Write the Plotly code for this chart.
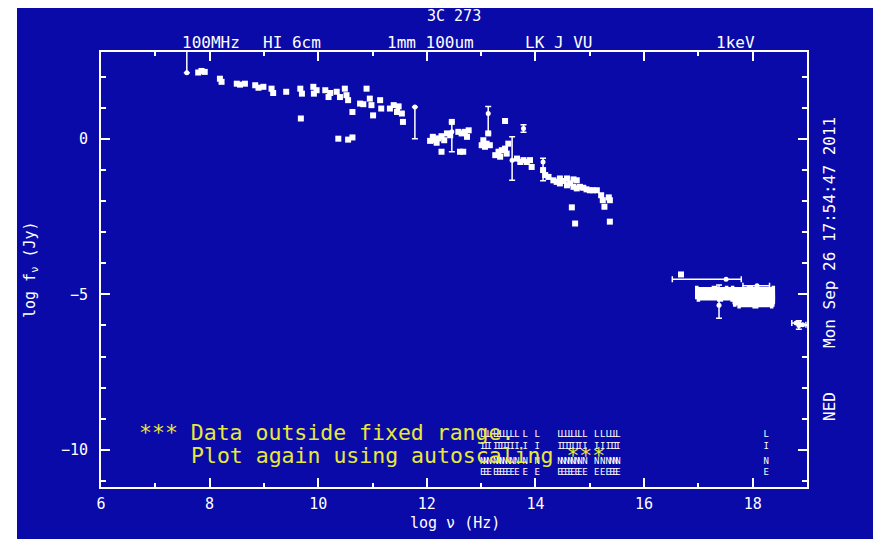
import plotly.graph_objects as go

# ---------------- data ----------------
# photometric points without drawn error bars: log nu (Hz), log f_nu (Jy)
sed_x = [7.79, 7.85, 7.91, 8.19, 8.22, 8.50, 8.56, 8.65, 8.84, 8.90, 8.99,
         9.14, 9.17, 9.41, 9.67, 9.70, 9.68, 9.91, 9.92, 9.97, 10.13, 10.19,
         10.22, 10.34, 10.40, 10.49, 10.52, 10.55, 10.63, 10.37, 10.55, 10.63,
         10.77, 10.83, 10.89, 10.95, 10.98, 11.01, 11.14, 11.16, 11.32, 11.39,
         11.45, 11.48, 11.54, 11.56,
         12.11, 12.15, 12.21, 12.27, 12.32, 12.18, 12.06, 12.27, 12.46, 12.37, 12.43,
         12.58, 12.64, 12.70, 12.77, 12.74, 12.61, 12.67, 13.13,
         13.04, 13.10, 13.16, 13.01, 13.07, 13.44,
         13.32, 13.38, 13.44, 13.26, 13.35, 13.47, 13.50,
         13.66, 13.72, 13.78, 13.84, 13.90, 13.93,
         14.14, 14.18, 14.24, 14.33, 14.39, 14.45, 14.52, 14.58, 14.64, 14.70,
         14.76, 14.82, 14.88, 14.94, 15.00, 15.06, 15.13,
         14.45, 14.58, 14.70, 14.76, 14.67, 14.73,
         15.21, 15.24, 15.27, 15.37, 15.35, 15.37,
         16.68]
sed_y = [2.14, 2.19, 2.16, 1.94, 1.84, 1.78, 1.75, 1.78, 1.73, 1.65, 1.68,
         1.62, 1.48, 1.52, 1.62, 1.46, 0.66, 1.68, 1.46, 1.57, 1.57, 1.35,
         1.48, 1.52, 1.35, 1.62, 1.41, 1.25, 0.87, 0.01, -0.02, 0.05,
         1.14, 1.12, 1.62, 1.30, 1.09, 0.76, 1.25, 0.98, 0.98, 1.09,
         0.87, 1.05, 0.82, 0.55,
         0.07, -0.04, 0.02, 0.09, -0.04, -0.12, -0.06, -0.41, 0.55, 0.18, 0.12,
         0.23, 0.18, 0.23, 0.28, 0.07, -0.41, -0.41, 0.18,
         -0.04, -0.15, -0.20, -0.20, -0.25, 0.58,
         -0.41, -0.36, -0.31, -0.52, -0.57, -0.47, -0.15,
         -0.63, -0.74, -0.68, -0.74, -0.68, -0.90,
         -1.00, -1.16, -1.22, -1.33, -1.38, -1.43, -1.35, -1.49, -1.43, -1.54,
         -1.59, -1.54, -1.57, -1.62, -1.65, -1.65, -1.65,
         -1.27, -1.27, -1.30, -1.33, -2.20, -2.72,
         -1.81, -1.97, -2.18, -1.97, -1.88, -2.66,
         -4.36]

# points with vertical error bars
err_x = [7.58, 11.78, 12.46, 13.13, 13.78, 13.57, 14.14, 17.38, 18.85]
err_y = [2.13, 1.03, 0.23, 0.82, 0.34, -0.68, -0.74, -5.35, -6.00]
err_up = [1.50, 0.00, 0.32, 0.23, 0.12, 0.75, 0.12, 0.65, 0.15]
err_dn = [0.00, 1.02, 0.64, 0.64, 0.12, 0.65, 0.60, 0.42, 0.12]

# X-ray / gamma points with horizontal error bars (thin)
xr_x = [17.51, 18.08, 18.80, 18.92]
xr_y = [-4.51, -4.72, -5.92, -5.98]
xr_lo = [0.99, 0.26, 0.08, 0.06]
xr_hi = [0.28, 0.23, 0.08, 0.06]

# dense X-ray spectrum block (horizontal error bars)
xb_x = [17.30, 17.95, 17.25, 17.85, 17.30, 17.95, 17.35, 18.00, 17.40, 18.00,
        18.02, 18.02, 18.05]
xb_y = [-4.82, -4.82, -4.90, -4.90, -4.98, -4.98, -5.06, -5.06, -5.14, -5.14,
        -5.22, -5.30, -5.36]
xb_err = [0.33, 0.43, 0.28, 0.50, 0.33, 0.43, 0.38, 0.38, 0.40, 0.38,
          0.36, 0.35, 0.30]

# positions of spectral-line markers ("LINE") along the bottom
line_x = [13.03, 13.09, 13.15, 13.27, 13.33, 13.38, 13.44, 13.50, 13.57, 13.66,
          13.81, 14.03, 14.45, 14.51, 14.58, 14.64, 14.69, 14.77, 14.82, 14.91,
          15.13, 15.24, 15.34, 15.41, 15.47, 15.52, 18.25]
line_letters = ["L", "I", "N", "E"]

# band labels along the top axis
band_labels = ["100MHz", "HI 6cm", "1mm 100um", "LK J VU", "1keV"]
band_x = [8.03, 9.51, 12.06, 14.42, 17.69]

x_tickvals = [6, 8, 10, 12, 14, 16, 18]
y_tickvals = [-10, -5, 0]

# ---------------- style / layout ----------------
BLUE = "#0a0aa8"
WHITE = "#ffffff"
YELLOW = "#e8e83a"
FONT = "DejaVu Sans Mono"

W, H = 881, 539
OFF = 8  # the page body margin shifts the figure by 8px
# plot box in screen pixels (as in the reference)
SL, SR, ST, SB = 101, 807, 52, 487
L, T = SL - OFF, ST - OFF
R = W - (SR - OFF)
B = H - (SB - OFF)
PW, PH = SR - SL, SB - ST


def px2paper(px, py):
    """screen pixel of the reference -> paper coordinates"""
    return (px - SL) / PW, (SB - py) / PH


fig = go.Figure()

fig.add_trace(go.Scatter(
    x=sed_x, y=sed_y, mode="markers",
    marker=dict(color=WHITE, size=6, symbol="square"),
    showlegend=False, hoverinfo="skip"))

fig.add_trace(go.Scatter(
    x=err_x, y=err_y, mode="markers",
    marker=dict(color=WHITE, size=5, symbol="circle"),
    error_y=dict(type="data", symmetric=False, array=err_up, arrayminus=err_dn,
                 color=WHITE, thickness=1.5, width=3),
    showlegend=False, hoverinfo="skip"))

fig.add_trace(go.Scatter(
    x=xr_x, y=xr_y, mode="markers",
    marker=dict(color=WHITE, size=5, symbol="circle"),
    error_x=dict(type="data", symmetric=False, array=xr_hi, arrayminus=xr_lo,
                 color=WHITE, thickness=1.5, width=3),
    showlegend=False, hoverinfo="skip"))

fig.add_trace(go.Scatter(
    x=xb_x, y=xb_y, mode="markers",
    marker=dict(color=WHITE, size=6, symbol="square"),
    error_x=dict(type="data", array=xb_err, color=WHITE, thickness=3.5, width=3),
    showlegend=False, hoverinfo="skip"))

# LINE markers: one text trace per letter row
letter_rows = [-9.52, -9.91, -10.39, -10.74]
for letter, yrow in zip(line_letters, letter_rows):
    fig.add_trace(go.Scatter(
        x=line_x, y=[yrow] * len(line_x), mode="text",
        text=[letter] * len(line_x),
        textfont=dict(family=FONT, size=9, color=WHITE),
        showlegend=False, hoverinfo="skip", cliponaxis=False))

axis_common = dict(
    showline=True, linecolor=WHITE, linewidth=2, mirror="ticks",
    ticks="inside", ticklen=9, tickwidth=1.5, tickcolor=WHITE,
    showgrid=False, zeroline=False,
    tickfont=dict(family=FONT, size=15, color=WHITE),
)

fig.update_layout(
    width=W, height=H,
    margin=dict(l=L, r=R, t=T, b=B, pad=0),
    paper_bgcolor=BLUE, plot_bgcolor=BLUE,
    showlegend=False,
    xaxis=dict(range=[6, 19], tickmode="array", tickvals=x_tickvals,
               minor=dict(dtick=1, tick0=6, ticks="inside", ticklen=4,
                          tickwidth=1.5, tickcolor=WHITE, showgrid=False),
               ticklabelstandoff=2, **axis_common),
    yaxis=dict(range=[-11.2, 2.8], tickmode="array", tickvals=y_tickvals,
               minor=dict(dtick=1, tick0=0, ticks="inside", ticklen=5,
                          tickwidth=1.5, tickcolor=WHITE, showgrid=False),
               ticklabelstandoff=8, **axis_common),
)

ann = []
# top band labels
_, ytop = px2paper(0, 43)
for lab, bx in zip(band_labels, band_x):
    ann.append(dict(text=lab, x=bx, xref="x", y=ytop, yref="paper",
                    showarrow=False, xanchor="center", yanchor="middle",
                    font=dict(family=FONT, size=16, color=WHITE)))
# title
tx, ty = px2paper(454, 16)
ann.append(dict(text="3C 273", x=tx, y=ty, xref="paper", yref="paper",
                showarrow=False, xanchor="center", yanchor="middle",
                font=dict(family=FONT, size=15, color=WHITE)))
# axis titles
ax_, ay_ = px2paper(455, 523)
ann.append(dict(text="log ν (Hz)", x=ax_, y=ay_, xref="paper", yref="paper",
                showarrow=False, xanchor="center", yanchor="middle",
                font=dict(family=FONT, size=15, color=WHITE)))
yx_, yy_ = px2paper(30, 270)
ann.append(dict(text="log f<sub>ν</sub> (Jy)", x=yx_, y=yy_, xref="paper", yref="paper",
                showarrow=False, xanchor="center", yanchor="middle", textangle=-90,
                font=dict(family=FONT, size=15, color=WHITE)))
# right side stamps
rx_, ry_ = px2paper(829, 233)
ann.append(dict(text="Mon Sep 26 17:54:47 2011", x=rx_, y=ry_, xref="paper", yref="paper",
                showarrow=False, xanchor="center", yanchor="middle", textangle=-90,
                font=dict(family=FONT, size=16, color=WHITE)))
nx_, ny_ = px2paper(829, 407)
ann.append(dict(text="NED", x=nx_, y=ny_, xref="paper", yref="paper",
                showarrow=False, xanchor="center", yanchor="middle", textangle=-90,
                font=dict(family=FONT, size=16, color=WHITE)))
# yellow warning
w1x, w1y = px2paper(137, 432)
ann.append(dict(text="*** Data outside fixed range.", x=w1x, y=w1y,
                xref="paper", yref="paper", showarrow=False,
                xanchor="left", yanchor="middle",
                font=dict(family=FONT, size=21.5, color=YELLOW)))
w2x, w2y = px2paper(189, 455)
ann.append(dict(text="Plot again using autoscaling ***", x=w2x, y=w2y,
                xref="paper", yref="paper", showarrow=False,
                xanchor="left", yanchor="middle",
                font=dict(family=FONT, size=21.5, color=YELLOW)))
fig.update_layout(annotations=ann)

# white strip on the left edge of the screenshot (beyond the page margin)
x0p, _ = px2paper(OFF - 2, 0)
x1p, _ = px2paper(17, 0)
_, ytp = px2paper(0, OFF - 2)
_, ybp = px2paper(0, H + OFF + 2)
fig.add_shape(type="rect", xref="paper", yref="paper", x0=x0p, x1=x1p,
              y0=ybp, y1=ytp, fillcolor=WHITE, line=dict(width=0), layer="above")

fig.write_html("out.html")
